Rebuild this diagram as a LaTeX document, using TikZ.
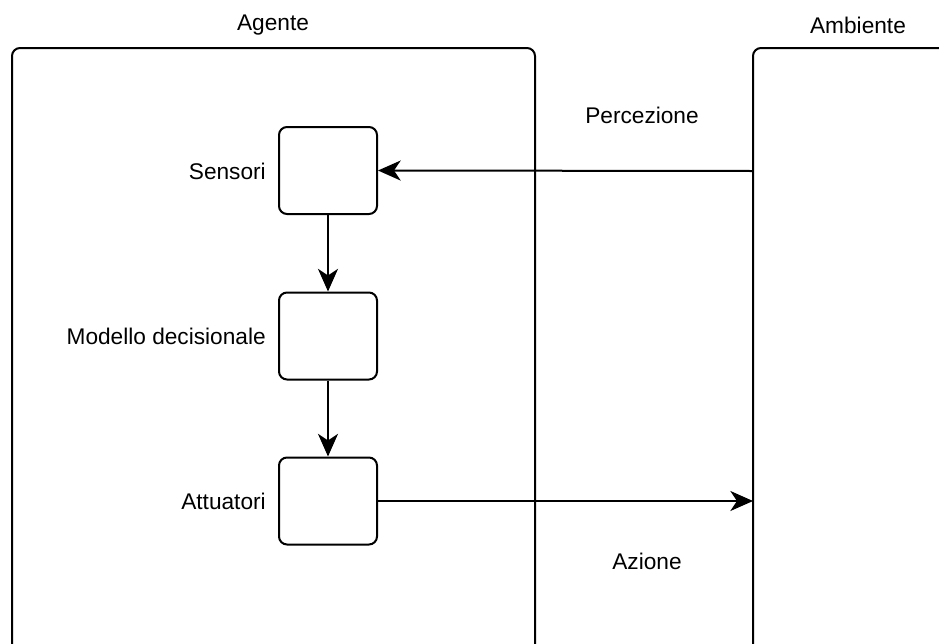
\documentclass[tikz,border=0pt]{standalone}
\usepackage{fontspec}
\setmainfont{Liberation Sans}
\usetikzlibrary{arrows.meta}
\begin{document}
\begin{tikzpicture}[x=0.75pt,y=-0.75pt,
  frame/.style={draw,line width=1.5pt,rounded corners=6pt},
  block/.style={draw,line width=1.5pt,rounded corners=6pt,minimum width=73.5pt,minimum height=65.25pt,inner sep=0pt},
  flow/.style={line width=1.5pt,-{Stealth[length=17pt,width=15pt,inset=5pt]}},
  lbl/.style={font=\fontsize{17}{20}\selectfont,inner sep=0pt}]
\useasboundingbox (0,0) rectangle (939,643);
\clip (0,0) rectangle (939,643);
% outer frames (their lower parts run past the page)
\draw[frame] (12,48) rectangle (535,680);
\draw[frame] (753,48) rectangle (990,680);
\coordinate (envtop) at (753,171);
\coordinate (envbot) at (753,501);
% inner blocks
\node[block] (sens) at (328,170.5) {};
\node[block] (model) at (328,336) {};
\node[block] (att) at (328,501) {};
% labels
\node[lbl] at (273,25) {Agente};
\node[lbl] at (858,25) {Ambiente};
\node[lbl] at (642,115) {Percezione};
\node[lbl] at (647,561) {Azione};
\node[lbl,anchor=east] at (266,171) {Sensori};
\node[lbl,anchor=east] at (266,336) {Modello decisionale};
\node[lbl,anchor=east] at (266,501) {Attuatori};
% connectors
\draw[flow] (envtop) -- (sens.east);
\draw[flow] (sens.south) -- (model.north);
\draw[flow] (model.south) -- (att.north);
\draw[flow] (att.east) -- (envbot);
\end{tikzpicture}
\end{document}
